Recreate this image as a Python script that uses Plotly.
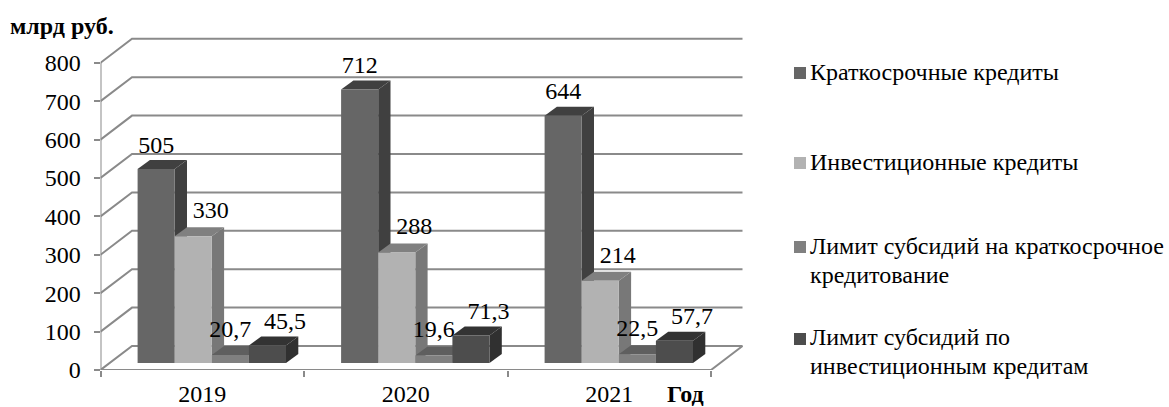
import plotly.graph_objects as go

W, H = 1169, 407
years = ["2019", "2020", "2021"]
series_names = ["Краткосрочные кредиты", "Инвестиционные кредиты",
                "Лимит субсидий на краткосрочное<br>кредитование",
                "Лимит субсидий по<br>инвестиционным кредитам"]
short_credit = [505, 712, 644]
invest_credit = [330, 288, 214]
short_limit = [20.7, 19.6, 22.5]
invest_limit = [45.5, 71.3, 57.7]
y_ticks = [0, 100, 200, 300, 400, 500, 600, 700, 800]

series = [short_credit, invest_credit, short_limit, invest_limit]
front = ["#666666", "#b2b2b2", "#808080", "#4d4d4d"]
top_c = ["#404040", "#808080", "#5f5f5f", "#333333"]
side_c = ["#404040", "#787878", "#5f5f5f", "#303030"]
GRID = "#8a8a8a"
FONT = "Liberation Serif"
FS = 24

# geometry, in axis units
PX_X = 203.5          # pixels per category
PX_Y = 0.384          # pixels per value unit
X0, Y0 = 100.5, 370
X1, Y1 = 746, 34
wall_dx, wall_dy = 31.5 / PX_X, 24 / PX_Y
bar_w = 37.1 / PX_X
bar_dx, bar_dy = 12.3 / PX_X, 9 / PX_Y
lift = 7 / PX_Y
label_up = [22.5 / PX_Y, 24.0 / PX_Y, 24.5 / PX_Y, 22.5 / PX_Y]
label_shift = [0, 17.5 / PX_X, 0, 17.5 / PX_X]

fig = go.Figure()
line = dict(color=GRID, width=2)

# walls and floor
for v in y_ticks:
    fig.add_trace(go.Scatter(x=[0, wall_dx, 3 + wall_dx], y=[v, v + wall_dy, v + wall_dy],
                             mode="lines", line=line, showlegend=False, hoverinfo="skip"))
fig.add_trace(go.Scatter(x=[0, 0], y=[0, y_ticks[-1]], mode="lines", line=line,
                         showlegend=False, hoverinfo="skip"))
fig.add_trace(go.Scatter(x=[0, 3, 3 + wall_dx], y=[0, 0, wall_dy], mode="lines", line=line,
                         showlegend=False, hoverinfo="skip"))

# depth faces, drawn series by series
for g in range(3):
    for k, vals in enumerate(series):
        x1 = g + bar_w * (k + 2)
        x0 = x1 - bar_w
        t = lift + vals[g]
        fig.add_trace(go.Scatter(
            x=[x1, x1 + bar_dx, x1 + bar_dx, x1, x1],
            y=[t, t + bar_dy, lift + bar_dy, lift, t],
            mode="none", fill="toself", fillcolor=side_c[k], showlegend=False, hoverinfo="skip"))
        fig.add_trace(go.Scatter(
            x=[x0, x0 + bar_dx, x1 + bar_dx, x1, x0],
            y=[t, t + bar_dy, t + bar_dy, t, t],
            mode="none", fill="toself", fillcolor=top_c[k], showlegend=False, hoverinfo="skip"))

# front faces and value labels on the overlaying subplot
for k, vals in enumerate(series):
    cx = [g + bar_w * (k + 1.5) for g in range(3)]
    fig.add_trace(go.Bar(x=cx, y=vals, base=lift, width=bar_w, marker=dict(color=front[k], line_width=0),
                         name=series_names[k].replace("<br>", " "), showlegend=False,
                         xaxis="x2", yaxis="y2"))
for k, vals in enumerate(series):
    fig.add_trace(go.Scatter(
        x=[g + bar_w * (k + 1.5) + label_shift[k] for g in range(3)],
        y=[lift + v + label_up[k] for v in vals],
        text=[str(v).replace(".", ",") for v in vals],
        mode="text", textposition="middle center",
        textfont=dict(family=FONT, size=FS, color="#000000"),
        showlegend=False, hoverinfo="skip", xaxis="x2", yaxis="y2"))


def px(x):
    return x / W


def py(y):
    return 1 - y / H


# legend
legend_y = [[72], [162], [246, 275], [337, 366]]
annotations = []
shapes = []
swatch_y = [73, 163, 247, 339]
for name, c, lys, sy in zip(series_names, front, legend_y, swatch_y):
    for part, ly in zip(name.split("<br>"), lys):
        annotations.append(dict(text=part, x=px(808), y=py(ly), xref="paper", yref="paper",
                                xanchor="left", yanchor="middle", align="left", showarrow=False,
                                font=dict(family=FONT, size=FS, color="#000000")))
    shapes.append(dict(type="rect", xref="paper", yref="paper", x0=px(794), x1=px(806),
                       y0=py(sy + 6), y1=py(sy - 6), fillcolor=c, line_width=0))
annotations.append(dict(text="<b>млрд руб.</b>", x=px(8), y=py(26), xref="paper", yref="paper",
                        xanchor="left", yanchor="middle", showarrow=False,
                        font=dict(family=FONT, size=FS, color="#000000")))
annotations.append(dict(text="<b>Год</b>", x=px(665), y=py(394), xref="paper", yref="paper",
                        xanchor="left", yanchor="middle", showarrow=False,
                        font=dict(family=FONT, size=FS, color="#000000")))

xr = [0, (X1 - X0) / PX_X]
yr = [0, (Y0 - Y1) / PX_Y]
xdom = [X0 / W, X1 / W]
ydom = [(H - Y0) / H, (H - Y1) / H]

fig.update_layout(
    width=W, height=H, margin=dict(l=0, r=0, t=0, b=0, autoexpand=False),
    paper_bgcolor="#ffffff", plot_bgcolor="#ffffff", barmode="overlay", showlegend=False,
    annotations=annotations, shapes=shapes,
    xaxis=dict(domain=xdom, range=xr, showgrid=False, zeroline=False, showline=False,
               tickmode="array", tickvals=[0.5, 1.5, 2.5], ticktext=years, ticks="",
               ticklabelstandoff=7, automargin=False,
               tickfont=dict(family=FONT, size=FS, color="#000000")),
    yaxis=dict(domain=ydom, range=yr, showgrid=False, zeroline=False, showline=False,
               tickmode="array", tickvals=y_ticks, ticks="outside", ticklen=6, tickwidth=2,
               tickcolor=GRID, ticklabelstandoff=8, automargin=False,
               tickfont=dict(family=FONT, size=FS, color="#000000")),
    xaxis2=dict(domain=xdom, range=xr, overlaying="x", anchor="y2", showgrid=False, zeroline=False,
                showline=False, tickmode="array", tickvals=[0, 1, 2, 3], ticks="outside",
                ticklen=6, tickwidth=2, tickcolor=GRID, showticklabels=False, automargin=False),
    yaxis2=dict(domain=ydom, range=yr, overlaying="y", anchor="x2", showgrid=False, zeroline=False,
                showline=False, showticklabels=False, ticks="", automargin=False),
)

fig.write_html("out.html", config=dict(displayModeBar=False),
               post_script="document.body.style.margin='0';document.body.style.overflow='hidden';")
